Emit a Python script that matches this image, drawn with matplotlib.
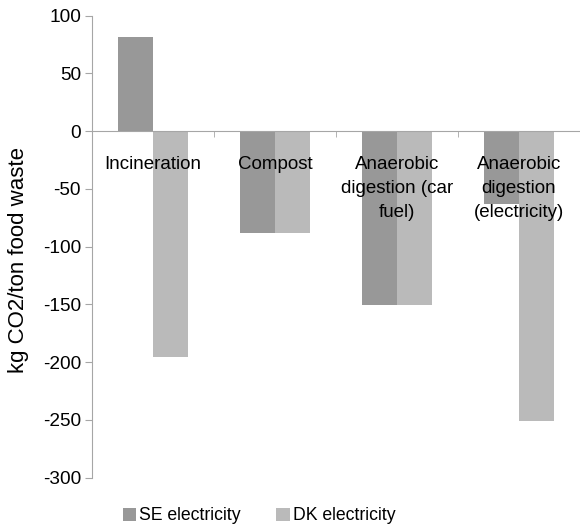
import matplotlib
matplotlib.use("Agg")
import matplotlib.pyplot as plt
import numpy as np

plt.rcParams["font.family"] = ["Liberation Sans", "DejaVu Sans"]
plt.rcParams["axes.unicode_minus"] = False

categories = ["Incineration", "Compost", "Anaerobic\ndigestion (car\nfuel)",
              "Anaerobic\ndigestion\n(electricity)"]
se_electricity = [81, -88, -151, -63]
dk_electricity = [-196, -88, -151, -251]
y_ticks = [100, 50, 0, -50, -100, -150, -200, -250, -300]

SE_COLOR = "#989898"
DK_COLOR = "#bababa"
AXIS_COLOR = "#a6a6a6"

fig = plt.figure(figsize=(5.8, 5.28), dpi=100)
ax = fig.add_axes([0.1586, 0.0956, 0.8414, 0.875])

x = np.arange(len(categories))
w = 0.285
ax.bar(x - w / 2, se_electricity, w, color=SE_COLOR, label="SE electricity")
ax.bar(x + w / 2, dk_electricity, w, color=DK_COLOR, label="DK electricity")

ax.set_xlim(-0.5, len(categories) - 0.5)
ax.set_ylim(-300, 100)
ax.set_yticks(y_ticks)
ax.tick_params(axis="y", labelsize=13.7, length=5, color=AXIS_COLOR, pad=3)

# category axis sits on the zero line, ticks between groups
ax.spines["bottom"].set_position(("data", 0))
ax.spines["bottom"].set_color(AXIS_COLOR)
ax.spines["left"].set_color(AXIS_COLOR)
for s in ("top", "right"):
    ax.spines[s].set_visible(False)
ax.set_xticks(x)
ax.set_xticklabels(categories, fontsize=13.5, linespacing=1.55)
ax.tick_params(axis="x", which="major", length=0, pad=18)
ax.set_xticks(np.arange(len(categories) + 1) - 0.5, minor=True)
ax.tick_params(axis="x", which="minor", length=4, color=AXIS_COLOR, direction="out")

ax.set_ylabel("kg CO2/ton food waste", fontsize=16)
ax.yaxis.set_label_coords(-0.129, 0.471)

fig.legend(loc="center", bbox_to_anchor=(0.447, 0.023), ncol=2, frameon=False,
           fontsize=12.7, handlelength=0.75, handleheight=0.75, handletextpad=0.2,
           columnspacing=2.0)

fig.savefig("out.png", dpi=100)
